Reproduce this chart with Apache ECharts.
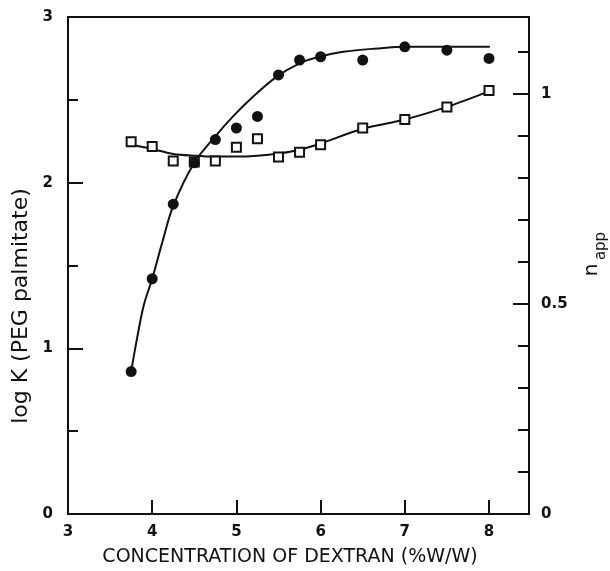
<!DOCTYPE html>
<html>
<head>
<meta charset="utf-8">
<script src="https://cdn.jsdelivr.net/npm/echarts@6/dist/echarts.min.js"></script>
<style>
html,body{margin:0;padding:0;background:#fff;}
#chart{width:610px;height:571px;}
</style>
</head>
<body>
<div id="chart"></div>
<script>
// log K (PEG palmitate) measured points (filled circles, left axis)
const dextranLogK = [3.75, 4.0, 4.25, 4.5, 4.75, 5.0, 5.25, 5.5, 5.75, 6.0, 6.5, 7.0, 7.5, 8.0];
const logK = [0.86, 1.42, 1.87, 2.12, 2.26, 2.33, 2.40, 2.65, 2.74, 2.76, 2.74, 2.82, 2.80, 2.75];

// n_app measured points (open squares, right axis)
const dextranNapp = [3.75, 4.0, 4.25, 4.5, 4.75, 5.0, 5.25, 5.5, 5.75, 6.0, 6.5, 7.0, 7.5, 8.0];
const nApp = [0.886, 0.875, 0.840, 0.838, 0.840, 0.873, 0.893, 0.850, 0.861, 0.879, 0.919, 0.939, 0.969, 1.008];

// hand-drawn fitted curves
const logKFitX = [3.75, 3.82, 3.90, 4.0, 4.12, 4.25, 4.5, 4.75, 4.96, 5.2, 5.48, 5.75, 5.95, 6.27, 6.67, 7.02, 7.54, 8.01];
const logKFitY = [0.86, 1.06, 1.26, 1.42, 1.64, 1.86, 2.12, 2.28, 2.40, 2.52, 2.64, 2.72, 2.755, 2.79, 2.81, 2.82, 2.82, 2.82];
const nFitX = [3.72, 4.0, 4.25, 4.5, 4.75, 5.0, 5.25, 5.5, 5.75, 6.0, 6.5, 7.0, 7.5, 8.0];
const nFitY = [0.880, 0.869, 0.857, 0.853, 0.851, 0.851, 0.853, 0.858, 0.867, 0.882, 0.917, 0.939, 0.969, 1.006];

// axis tick labels
const xTickLabels = [3, 4, 5, 6, 7, 8];
const leftTickLabels = [0, 1, 2, 3];
const rightTickLabels = [0, 0.5, 1];

const xTitle = 'CONCENTRATION OF DEXTRAN (%W/W)';
const leftTitle = 'log K (PEG palmitate)';

const zip = (a, b) => a.map((v, i) => [v, b[i]]);
const near = (v, list) => list.some(t => Math.abs(t - v) < 1e-6);

const FONT = "'DejaVu Sans', sans-serif";
const INK = '#111';

const chart = echarts.init(document.getElementById('chart'), null, {renderer: 'canvas'});
chart.setOption({
  animation: false,
  backgroundColor: '#fff',
  grid: {left: 68, top: 17, right: 81, bottom: 57, show: true, borderColor: INK, borderWidth: 2, backgroundColor: 'transparent'},
  xAxis: {
    type: 'value', min: 3, max: 8.475, interval: 1,
    axisLine: {show: true, lineStyle: {color: INK, width: 2}},
    axisTick: {show: true, inside: true, length: 14, lineStyle: {color: INK, width: 2}},
    splitLine: {show: false},
    axisLabel: {
      margin: 11, fontSize: 15, fontFamily: FONT, fontWeight: 'bold', color: INK,
      formatter: v => near(v, xTickLabels) ? String(Math.round(v)) : ''
    }
  },
  yAxis: [
    {
      type: 'value', position: 'left', min: 0, max: 3, interval: 1,
      axisLine: {show: true, lineStyle: {color: INK, width: 2}},
      axisTick: {show: true, inside: true, length: 15, lineStyle: {color: INK, width: 2}},
      minorTick: {show: true, splitNumber: 2, length: 10, lineStyle: {color: INK, width: 2}},
      splitLine: {show: false}, minorSplitLine: {show: false},
      axisLabel: {
        margin: 15, fontSize: 15, fontFamily: FONT, fontWeight: 'bold', color: INK,
        formatter: v => near(v, leftTickLabels) ? String(Math.round(v)) : ''
      }
    },
    {
      type: 'value', position: 'right', min: 0, max: 1.183, interval: 0.5,
      axisLine: {show: true, lineStyle: {color: INK, width: 2}},
      axisTick: {show: true, inside: true, length: 16, lineStyle: {color: INK, width: 2}},
      splitLine: {show: false},
      axisLabel: {
        margin: 12, fontSize: 15, fontFamily: FONT, fontWeight: 'bold', color: INK,
        formatter: v => near(v, rightTickLabels) ? String(v) : ''
      }
    },
    {
      type: 'value', position: 'right', min: 0, max: 1.183, interval: 0.1,
      axisLine: {show: false},
      axisTick: {show: true, inside: true, length: 11, lineStyle: {color: INK, width: 2}},
      splitLine: {show: false},
      axisLabel: {show: false}
    }
  ],
  graphic: [
    {type: 'text', x: 290, y: 557, z: 10,
      style: {text: xTitle, font: "19px 'DejaVu Sans', sans-serif", fill: INK, align: 'center', verticalAlign: 'middle'}},
    {type: 'text', x: 21, y: 306, rotation: Math.PI / 2, z: 10,
      style: {text: leftTitle, font: "22px 'DejaVu Sans', sans-serif", fill: INK, align: 'center', verticalAlign: 'middle'}},
    {type: 'text', x: 592, y: 270, rotation: Math.PI / 2, z: 10,
      style: {text: 'n', font: "20px 'DejaVu Sans', sans-serif", fill: INK, align: 'center', verticalAlign: 'middle'}},
    {type: 'text', x: 601, y: 246, rotation: Math.PI / 2, z: 10,
      style: {text: 'app', font: "15px 'DejaVu Sans', sans-serif", fill: INK, align: 'center', verticalAlign: 'middle'}}
  ],
  series: [
    {
      name: 'log K fit', type: 'line', yAxisIndex: 0, data: zip(logKFitX, logKFitY),
      smooth: 0.35, showSymbol: false, silent: true, z: 2,
      lineStyle: {color: INK, width: 2}
    },
    {
      name: 'n_app fit', type: 'line', yAxisIndex: 1, data: zip(nFitX, nFitY),
      smooth: 0.3, showSymbol: false, silent: true, z: 2,
      lineStyle: {color: INK, width: 2}
    },
    {
      name: 'n_app', type: 'scatter', yAxisIndex: 1, data: zip(dextranNapp, nApp),
      symbol: 'rect', symbolSize: 9, z: 3,
      itemStyle: {color: '#fff', borderColor: INK, borderWidth: 2, opacity: 1}
    },
    {
      name: 'log K', type: 'scatter', yAxisIndex: 0, data: zip(dextranLogK, logK),
      symbol: 'circle', symbolSize: 11, z: 4,
      itemStyle: {color: INK, opacity: 1}
    }
  ]
});
</script>
</body>
</html>
